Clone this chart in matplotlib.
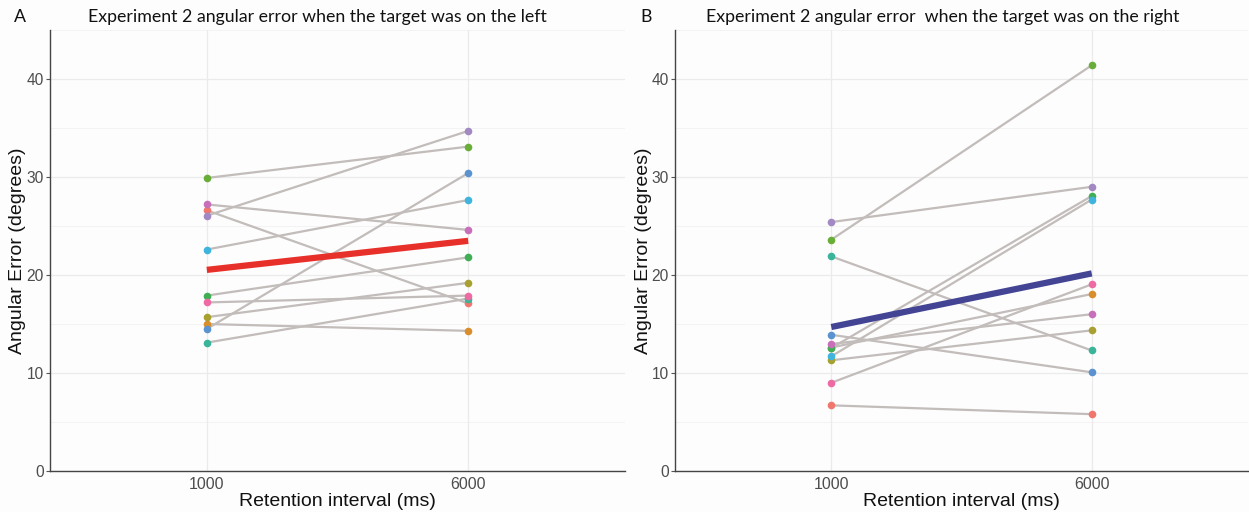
import numpy as np
import matplotlib
matplotlib.use("Agg")
import matplotlib.pyplot as plt

plt.rcParams["font.family"] = ["Liberation Sans", "DejaVu Sans"]

# ---------------- data ----------------
intervals = ["1000", "6000"]
subject_colors = ["#EF776D", "#D98E2E", "#A9A032", "#6AAE3A", "#3FAE55", "#3AB59A",
                  "#3FB5DD", "#5B93D0", "#A389C4", "#C86FB9", "#EE6AA2"]

# target on the left (per subject, same order as colours)
left_1000 = [26.6, 15.0, 15.7, 29.9, 17.9, 13.1, 22.6, 14.5, 26.05, 27.2, 17.2]
left_6000 = [17.1, 14.3, 19.2, 33.1, 21.8, 17.6, 27.65, 30.4, 34.7, 24.6, 17.9]

# target on the right
right_1000 = [6.7, 12.6, 11.3, 23.6, 12.55, 21.9, 11.7, 13.9, 25.4, 12.96, 9.0]
right_6000 = [5.8, 18.06, 14.35, 41.4, 28.06, 12.3, 27.7, 10.07, 29.0, 16.0, 19.05]

titles = ["Experiment 2 angular error when the target was on the left",
          "Experiment 2 angular error  when the target was on the right"]
panel_tags = ["A", "B"]
mean_colors = ["#E8302A", "#434494"]
yticks = [0, 10, 20, 30, 40]

W, H = 1249, 512
bg = "#FDFDFD"
fig = plt.figure(figsize=(W / 100, H / 100), dpi=100, facecolor=bg)

axes_px = [(50, 30, 625, 471), (675, 30, 1248, 471)]
datasets = [(left_1000, left_6000), (right_1000, right_6000)]
title_x = [88, 706]
tag_x = [14, 640]

for i, ((x0, y0, x1, y1), (a, b)) in enumerate(zip(axes_px, datasets)):
    ax = fig.add_axes([x0 / W, 1 - y1 / H, (x1 - x0) / W, (y1 - y0) / H])
    ax.set_facecolor(bg)
    xs = np.arange(1, len(intervals) + 1)
    ax.set_xlim(0.4, 2.6)
    ax.set_ylim(0, 45)
    # grid
    for y in np.arange(5, 46, 10):
        ax.axhline(y, color="#F2F2F2", lw=0.6, zorder=0)
    for y in yticks:
        ax.axhline(y, color="#EBEBEB", lw=0.9, zorder=0)
    for x in xs:
        ax.axvline(x, color="#EBEBEB", lw=0.9, zorder=0)
    # subject lines
    for c, va, vb in zip(subject_colors, a, b):
        ax.plot(xs, [va, vb], color="#C2BCBA", lw=1.6, zorder=2, solid_capstyle="butt")
    # points
    for c, va, vb in zip(subject_colors, a, b):
        ax.plot(xs, [va, vb], linestyle="none", marker="o", ms=5.5, color=c,
                markeredgewidth=0, zorder=3)
    # mean line
    ax.plot(xs, [np.mean(a), np.mean(b)], color=mean_colors[i], lw=4.5, zorder=4,
            solid_capstyle="butt")

    ax.set_xticks(xs)
    ax.set_xticklabels(intervals, fontsize=11.5, color="#4D4D4D")
    ax.set_yticks(yticks)
    ax.set_yticklabels([str(t) for t in yticks], fontsize=11.2, color="#4D4D4D")
    ax.tick_params(axis="y", length=3, width=0.8, color="#555555", pad=1.5)
    ax.tick_params(axis="x", length=0, pad=4)
    for s in ["top", "right"]:
        ax.spines[s].set_visible(False)
    for s in ["left", "bottom"]:
        ax.spines[s].set_color("#444444")
        ax.spines[s].set_linewidth(1.0)
    ax.set_xlabel("Retention interval (ms)", fontsize=14, color="#111111", labelpad=1)
    ax.set_ylabel("Angular Error (degrees)", fontsize=14, color="#111111", labelpad=0)

    fig.text(title_x[i] / W, 1 - 17 / H, titles[i], fontsize=12.8, family=["Lato"],
             ha="left", va="center", color="#111111")
    fig.text(tag_x[i] / W, 1 - 17 / H, panel_tags[i], fontsize=12.8, family=["Lato"],
             ha="left", va="center", color="#111111")

fig.savefig("out.png", dpi=100, facecolor=bg)
